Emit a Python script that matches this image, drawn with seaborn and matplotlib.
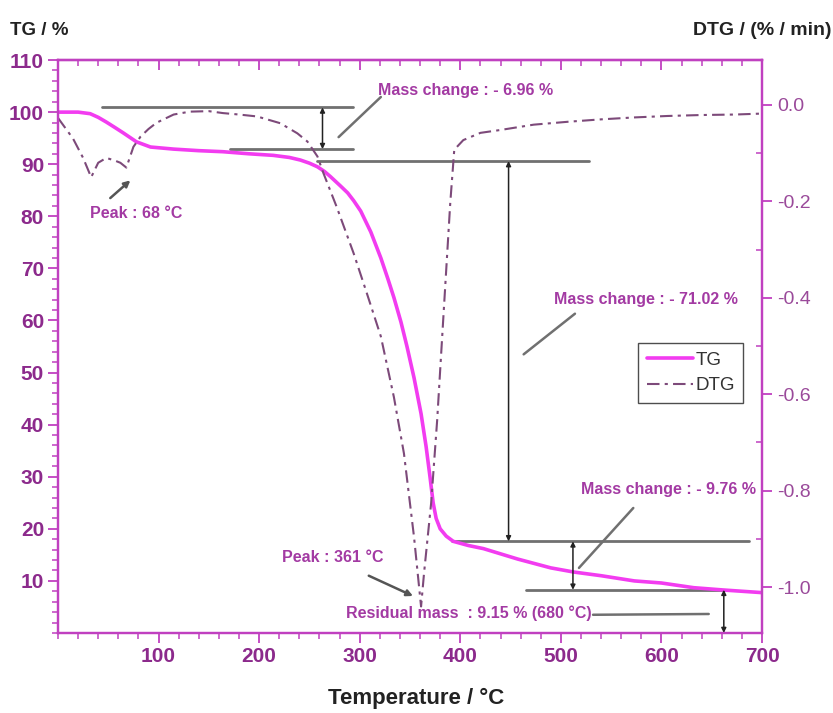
import matplotlib
matplotlib.use("Agg")
import matplotlib.pyplot as plt
import seaborn as sns
import numpy as np
import pandas as pd
from matplotlib.ticker import MultipleLocator, FixedLocator

# ---------------- data ----------------
tg_temp = [0, 20, 32, 40, 48, 57, 65, 78, 92, 115, 140, 164, 190, 214, 230, 241, 250,
           258, 265, 271, 281, 288, 294, 301, 311, 321, 328, 334, 341, 347, 354, 361, 366,
           370, 373, 376, 380, 386, 393, 408, 423, 440, 457, 490, 513, 540, 573, 600,
           632, 662, 700]
tg_mass = [100, 100, 99.7, 99.0, 98.1, 97.0, 96.0, 94.3, 93.3, 92.9, 92.6, 92.4, 92.0,
           91.7, 91.3, 90.8, 90.2, 89.5, 88.6, 87.6, 85.8, 84.5, 83.0, 81.0, 77.0, 72.0,
           68.0, 64.4, 59.7, 55.0, 49.0, 42.1, 35.8, 29.8, 25.0, 22.0, 20.0, 18.6, 17.6,
           16.8, 16.2, 15.2, 14.2, 12.5, 11.7, 11.0, 10.0, 9.6, 8.7, 8.25, 7.75]

dtg_temp = [0, 15, 25, 33, 40, 48, 56, 62, 68, 75, 82, 90, 98, 115, 131, 150, 164, 180,
            198, 221, 238, 248, 258, 264, 277, 294, 307, 321, 334, 344, 354, 361, 364,
            371, 377, 383, 390, 394, 403, 420, 440, 473, 507, 540, 573, 606, 640, 673, 700]
dtg_rate = [-0.027, -0.07, -0.11, -0.15, -0.12, -0.11, -0.115, -0.12, -0.13, -0.087,
            -0.066, -0.05, -0.037, -0.02, -0.014, -0.013, -0.017, -0.02, -0.024, -0.038,
            -0.059, -0.076, -0.107, -0.142, -0.211, -0.308, -0.39, -0.48, -0.606, -0.723,
            -0.896, -1.04, -0.97, -0.826, -0.654, -0.446, -0.204, -0.093, -0.073, -0.058,
            -0.052, -0.041, -0.035, -0.03, -0.026, -0.023, -0.021, -0.02, -0.018]

x_ticks = [100, 200, 300, 400, 500, 600, 700]
tg_ticks = [10, 20, 30, 40, 50, 60, 70, 80, 90, 100, 110]
dtg_ticks = [-1.0, -0.8, -0.6, -0.4, -0.2, 0.0]

# annotation guide lines (temperature, TG value)
h_lines = [((44, 293), 100.9), ((171, 293), 92.9), ((258, 528), 90.6),
           ((392, 687), 17.6), ((465, 662), 8.3)]
v_arrows = [(263, 100.9, 92.9), (448, 90.6, 17.6), (512, 17.6, 8.3), (662, 8.3, 0.0)]
labels = ["Mass change : - 6.96 %", "Peak : 68 °C", "Mass change : - 71.02 %",
          "Mass change : - 9.76 %", "Peak : 361 °C", "Residual mass  : 9.15 % (680 °C)"]
label_pos = [(318, 104.2), (32, 80.6), (493, 64.0), (520, 27.5), (223, 14.4), (286, 3.85)]
leaders = [((279, 95.2), (321, 102.9), False), ((52, 83.5), (72, 86.9), True),
           ((463, 53.5), (514, 61.3), False), ((518, 12.5), (572, 24.0), False),
           ((309, 11.0), (353, 7.1), True), ((532, 3.5), (647, 3.65), False)]

tg_df = pd.DataFrame({"T": tg_temp, "TG": tg_mass})
dtg_df = pd.DataFrame({"T": dtg_temp, "DTG": dtg_rate})

# ---------------- style ----------------
sns.set_theme(style="white")
plt.rcParams["font.family"] = ["Liberation Sans", "DejaVu Sans"]

spine_c = "#c040c0"
tick_c = "#8c2a8c"
tg_c = "#f23cf0"
dtg_c = "#7d4a7a"
guide_c = "#707070"
ann_c = "#a33aa3"

fig = plt.figure(figsize=(8.33, 7.13), dpi=100)
ax = fig.add_axes([0.0696, 0.1122, 0.8452, 0.8036])
ax2 = ax.twinx()

sns.lineplot(data=tg_df, x="T", y="TG", ax=ax, color=tg_c, lw=2.6, sort=False,
             label="TG", legend=False)
sns.lineplot(data=dtg_df, x="T", y="DTG", ax=ax2, color=dtg_c, lw=1.5, sort=False,
             label="DTG", legend=False)
ax2.lines[0].set_dashes([6, 2.5, 1.5, 2.5])

ax.set_xlim(0, 700)
ax.set_ylim(0, 110)
ax2.set_ylim(-1.095, 0.093)

for a in (ax, ax2):
    for s in a.spines.values():
        s.set_color(spine_c)
        s.set_linewidth(1.6)
    a.set_xlabel("")
    a.set_ylabel("")

ax.xaxis.set_major_locator(FixedLocator(x_ticks))
ax.xaxis.set_minor_locator(MultipleLocator(20))
ax.yaxis.set_major_locator(FixedLocator(tg_ticks))
ax.yaxis.set_minor_locator(MultipleLocator(2))
ax2.yaxis.set_major_locator(FixedLocator(dtg_ticks))
ax2.yaxis.set_minor_locator(MultipleLocator(0.1))

ax.tick_params(axis="both", which="major", direction="out", length=7, width=1.3,
               color=spine_c, labelcolor=tick_c, labelsize=15, pad=3)
ax.tick_params(axis="both", which="minor", direction="out", length=4, width=1.1,
               color=spine_c)
ax.tick_params(axis="x", bottom=True, which="both")
ax.tick_params(axis="y", left=True, which="both")
for lab in ax.get_xticklabels() + ax.get_yticklabels():
    lab.set_fontweight("bold")
ax2.yaxis.set_major_formatter(matplotlib.ticker.FormatStrFormatter("%.1f"))
ax2.tick_params(axis="y", which="major", direction="out", length=7, width=1.3,
                color=spine_c, labelcolor="#9a4a9a", labelsize=14, right=True, pad=4)
ax2.tick_params(axis="y", which="minor", direction="in", length=4, width=1.1,
                color=spine_c, right=True)

top = ax.secondary_xaxis("top")
top.xaxis.set_major_locator(FixedLocator(x_ticks))
top.xaxis.set_minor_locator(MultipleLocator(20))
top.tick_params(which="major", direction="in", length=7, width=1.3, color=spine_c,
                labeltop=False)
top.tick_params(which="minor", direction="in", length=4, width=1.1, color=spine_c)
top.spines["top"].set_color(spine_c)
top.spines["top"].set_linewidth(1.6)

# guide lines
for (x0, x1), y in h_lines:
    ax.plot([x0, x1], [y, y], color=guide_c, lw=2.0, zorder=1)
for x, y0, y1 in v_arrows:
    ax.annotate("", xy=(x, y1), xytext=(x, y0),
                arrowprops=dict(arrowstyle="<|-|>", color="#222222", lw=1.1,
                                mutation_scale=7, shrinkA=0, shrinkB=0))
for (p0, p1, head) in leaders:
    if head:
        ax.annotate("", xy=p1, xytext=p0,
                    arrowprops=dict(arrowstyle="-|>", color="#555555", lw=1.8,
                                    mutation_scale=9, shrinkA=0, shrinkB=0))
    else:
        ax.plot([p0[0], p1[0]], [p0[1], p1[1]], color=guide_c, lw=1.8)
for txt, (x, y) in zip(labels, label_pos):
    ax.text(x, y, txt, color=ann_c, fontsize=11.5, fontweight="bold",
            ha="left", va="center")

# legend
handles = ax.lines[:1] + ax2.lines[:1]
leg = ax.legend(handles, ["TG", "DTG"], loc="upper left",
                bbox_to_anchor=(0.824, 0.506), frameon=True, fancybox=False,
                fontsize=13.5, handlelength=2.5, handletextpad=0.1,
                borderpad=0.45, labelspacing=0.45, borderaxespad=0)
leg.get_frame().set_edgecolor("#222222")
leg.get_frame().set_linewidth(1.0)
for t in leg.get_texts():
    t.set_color("#333333")

fig.text(0.012, 0.957, "TG / %", fontsize=13.5, fontweight="bold", color="#222222",
         ha="left", va="center")
fig.text(0.998, 0.957, "DTG / (% / min)", fontsize=14, fontweight="bold",
         color="#222222", ha="right", va="center")
fig.text(0.50, 0.020, "Temperature / °C", fontsize=16, fontweight="bold",
         color="#222222", ha="center", va="center")

fig.savefig("out.png", dpi=100, facecolor="white")
